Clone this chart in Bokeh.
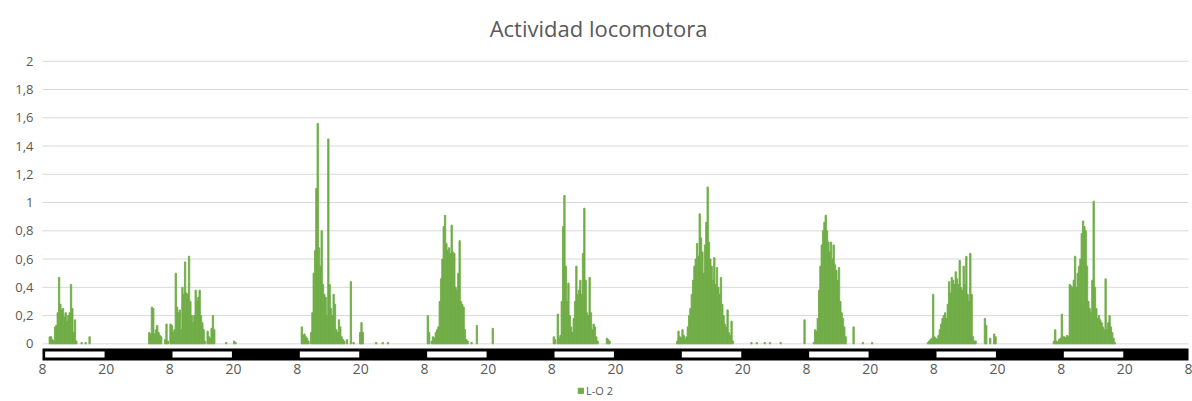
import numpy as np
from bokeh.plotting import figure
from bokeh.models import (FixedTicker, CustomJSTickFormatter, Label, Legend,
                          LegendItem, Range1d)
from bokeh.embed import file_html
from bokeh.resources import INLINE
from bokeh.core.properties import value

# ---------------- data ----------------
title_text = "Actividad locomotora"
series_name = "L-O 2"
bin_hours = 0.25                      # 15-minute bins
tick_hours = list(range(0, 217, 12))  # hours from the first 8:00
tick_labels = ["8" if h % 24 == 0 else "20" for h in tick_hours]
y_ticks = [0, 0.2, 0.4, 0.6, 0.8, 1.0, 1.2, 1.4, 1.6, 1.8, 2.0]
light_on = [0, 24, 48, 72, 96, 120, 144, 168, 192]      # 8:00
light_off = [12, 36, 60, 84, 108, 132, 156, 180, 204]   # 20:00

# start (hours from first 8:00) of each day's recorded activity window
day_start = [1.25, 20.0, 48.5, 72.0, 96.25, 119.5, 143.5, 166.75, 190.5]

day1 = [0.05, 0.05, 0.03, 0.02, 0.12, 0.13, 0.22, 0.47, 0.28, 0.24, 0.25, 0.19,
        0.22, 0.16, 0.20, 0.22, 0.42, 0.25, 0.08, 0.17, 0.02, 0, 0, 0, 0.01, 0,
        0, 0.01, 0, 0, 0.05]
day2 = [0.08, 0.07, 0.26, 0.25, 0.07, 0.10, 0.13, 0.08, 0.06, 0.05, 0, 0, 0.03,
        0.14, 0.02, 0, 0.14, 0.13, 0.08, 0.10, 0.50, 0.26, 0.22, 0.24, 0.10,
        0.40, 0.35, 0.58, 0.36, 0.35, 0.62, 0.30, 0.20, 0.15, 0.20, 0.38, 0.30,
        0.33, 0.38, 0.20, 0.15, 0.10, 0.02, 0, 0.09, 0.05, 0.04, 0.11, 0.20,
        0.10, 0, 0, 0, 0, 0, 0, 0, 0, 0.01, 0, 0, 0, 0, 0, 0.02, 0.01]
day3 = [0, 0.12, 0.06, 0.07, 0.05, 0.04, 0.02, 0, 0.08, 0.22, 0.50, 0.66, 1.10,
        1.56, 0.68, 0.55, 0.80, 0.42, 0.35, 0.33, 0.20, 1.45, 0.42, 0.25, 0.20,
        0.35, 0.28, 0.10, 0.08, 0.17, 0.12, 0.05, 0.03, 0.02, 0, 0.03, 0, 0,
        0.44, 0, 0.01, 0, 0, 0, 0, 0.08, 0.15, 0.08, 0, 0, 0, 0, 0, 0, 0, 0,
        0, 0.01, 0, 0, 0, 0, 0.01, 0, 0, 0, 0.01]
day4 = [0, 0, 0.20, 0.08, 0, 0.02, 0.05, 0.04, 0.08, 0.10, 0.12, 0.30, 0.46,
        0.60, 0.83, 0.91, 0.71, 0.66, 0.68, 0.64, 0.84, 0.65, 0.64, 0.40, 0.38,
        0.50, 0.73, 0.30, 0.28, 0.26, 0.10, 0.03, 0.02, 0, 0, 0.01, 0, 0, 0,
        0.13, 0, 0, 0, 0, 0, 0, 0, 0, 0, 0, 0, 0.11]
day5 = [0.05, 0.03, 0, 0.21, 0.04, 0.06, 0.30, 0.83, 1.05, 0.55, 0.30, 0.43,
        0.20, 0.12, 0.08, 0.18, 0.30, 0.55, 0.35, 0.38, 0.45, 0.35, 0.64, 0.96,
        0.45, 0.22, 0.20, 0.47, 0.22, 0.10, 0.14, 0.12, 0.05, 0.02, 0, 0, 0, 0,
        0, 0, 0.04, 0.03, 0.02]
day6 = [0.02, 0.09, 0.05, 0.04, 0.10, 0.06, 0.03, 0.05, 0.12, 0.20, 0.25,
        0.35, 0.45, 0.55, 0.60, 0.71, 0.62, 0.92, 0.75, 0.65, 0.50, 0.70, 0.86,
        1.11, 0.72, 0.60, 0.55, 0.45, 0.61, 0.42, 0.54, 0.40, 0.35, 0.47, 0.28,
        0.20, 0.14, 0.12, 0.24, 0.08, 0.06, 0.16, 0.02, 0, 0, 0, 0, 0, 0, 0, 0,
        0, 0, 0, 0, 0, 0.01, 0, 0, 0, 0.01, 0, 0, 0, 0, 0, 0.01, 0, 0, 0,
        0.01, 0, 0, 0, 0, 0, 0, 0, 0.01]
day7 = [0.17, 0, 0, 0, 0, 0, 0, 0.01, 0.10, 0.09, 0.18, 0.38, 0.55, 0.70, 0.80,
        0.86, 0.91, 0.80, 0.72, 0.65, 0.72, 0.60, 0.70, 0.56, 0.52, 0.45, 0.54,
        0.30, 0.22, 0.18, 0.12, 0.05, 0, 0, 0, 0, 0, 0.12, 0, 0, 0, 0, 0, 0,
        0.01, 0, 0, 0, 0, 0, 0, 0.01]
day8 = [0.01, 0.02, 0.03, 0.04, 0.35, 0.05, 0.04, 0.03, 0.06, 0.10, 0.14,
        0.18, 0.20, 0.22, 0.18, 0.28, 0.44, 0.36, 0.47, 0.45, 0.42, 0.51, 0.46,
        0.42, 0.59, 0.40, 0.38, 0.55, 0.42, 0.62, 0.35, 0.30, 0.64, 0.35, 0.05,
        0.02, 0.02, 0, 0, 0, 0, 0, 0, 0.18, 0.13, 0, 0, 0.04, 0, 0, 0.07, 0.05]
day9 = [0.02, 0.10, 0.02, 0.01, 0.03, 0.04, 0.21, 0.05, 0.05, 0.04, 0.06, 0.05,
        0.42, 0.41, 0.40, 0.45, 0.62, 0.40, 0.50, 0.55, 0.60, 0.78, 0.87, 0.83,
        0.80, 0.55, 0.30, 0.25, 0.22, 0.45, 1.01, 0.40, 0.25, 0.18, 0.20, 0.17,
        0.15, 0.12, 0.10, 0.46, 0.10, 0.15, 0.20, 0.12, 0.08, 0.04, 0.01]

days = [day1, day2, day3, day4, day5, day6, day7, day8, day9]

# ---------------- build bar columns ----------------
xs, tops = [], []
for start, vals in zip(day_start, days):
    for i, v in enumerate(vals):
        if v > 0:
            xs.append(start + (i + 0.5) * bin_hours)
            tops.append(v)

GREEN = "#70AD47"
GREY_TXT = "#595959"
FONT = "Open Sans"

W, H = 1192, 401
x_end = light_off[-1] + 12
p = figure(width=W, height=H,
           x_range=Range1d(-1.13, x_end + 0.75),
           y_range=Range1d(-0.408, 2.43),
           x_axis_location=None,
           output_backend="svg", toolbar_location=None,
           min_border_left=36, min_border_right=0,
           min_border_top=0, min_border_bottom=0)
p.outline_line_color = None
p.background_fill_color = "white"
p.border_fill_color = "white"
p.xgrid.visible = False
p.ygrid.visible = False

# horizontal gridlines at the y ticks
p.segment(x0=[light_on[0]] * len(y_ticks), x1=[x_end] * len(y_ticks),
          y0=y_ticks, y1=y_ticks, line_color="#D9D9D9", line_width=1)

# light / dark bar under the axis
p.quad(left=[light_on[0]], right=[x_end], bottom=[-0.118], top=[-0.033],
       fill_color="black", line_color=None)
p.quad(left=np.array(light_on) + 0.5, right=np.array(light_off) - 0.3,
       bottom=-0.097, top=-0.054, fill_color="white", line_color=None)

r = p.vbar(x=xs, top=tops, bottom=0, width=bin_hours,
           fill_color=GREEN, line_color=GREEN, line_width=0.9)

# x tick labels (8 / 20)
p.text(x=tick_hours, y=[-0.18] * len(tick_hours), text=tick_labels,
       text_align="center", text_baseline="middle",
       text_font=value(FONT), text_font_size="14px", text_color=GREY_TXT)

# y axis
p.yaxis.ticker = FixedTicker(ticks=y_ticks)
p.yaxis.formatter = CustomJSTickFormatter(
    code="const s = (Math.round(tick*10)/10).toString(); return s.replace('.', ',');")
p.yaxis.axis_line_color = None
p.yaxis.major_tick_line_color = None
p.yaxis.minor_tick_line_color = None
p.yaxis.major_tick_out = 0
p.yaxis.major_tick_in = 0
p.yaxis.minor_tick_out = 0
p.yaxis.major_label_text_color = GREY_TXT
p.yaxis.major_label_text_font = FONT
p.yaxis.major_label_text_font_size = "13px"
p.yaxis.major_label_standoff = 3

# title
p.add_layout(Label(x=562, y=374, x_units="screen", y_units="screen",
                   text=title_text, text_align="center", text_baseline="middle",
                   text_font=FONT, text_font_size="22px", text_color=GREY_TXT))

# legend
legend = Legend(items=[LegendItem(label=series_name, renderers=[r])],
                location=(541, 3), orientation="horizontal",
                border_line_color=None, background_fill_alpha=0,
                padding=0, margin=0, spacing=0,
                glyph_width=7, glyph_height=7, label_standoff=2,
                label_height=12, label_text_font=FONT,
                label_text_font_size="11px", label_text_color=GREY_TXT)
p.add_layout(legend, "center")

open("out.html", "w").write(file_html(p, INLINE))
